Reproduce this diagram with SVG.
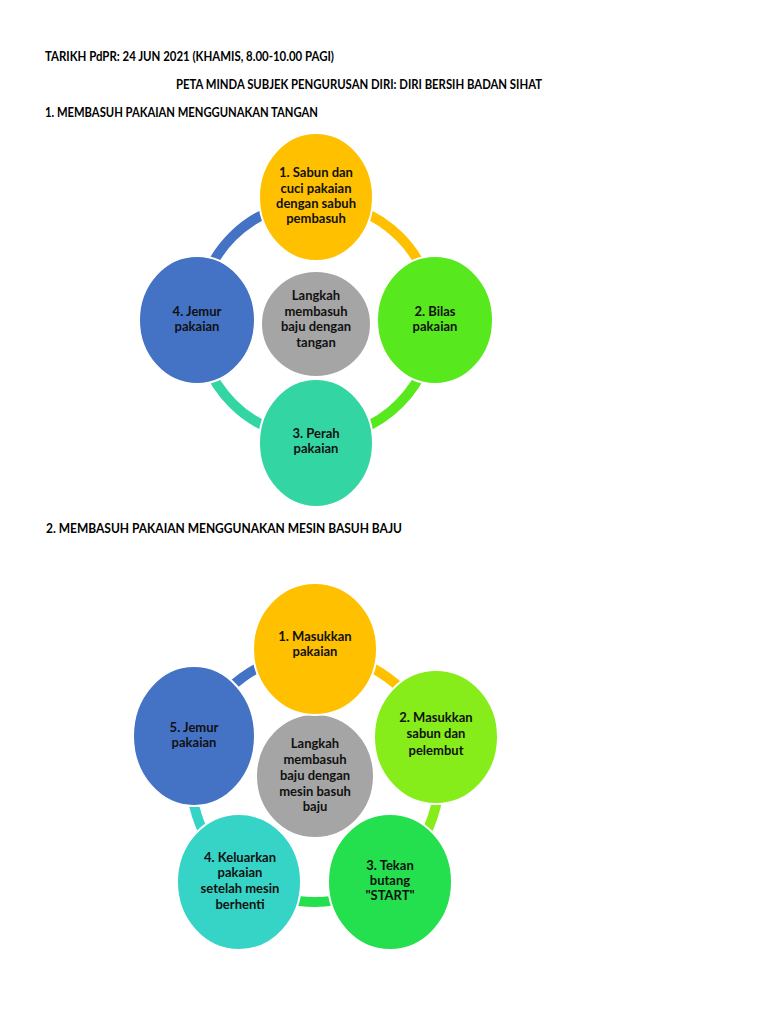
<svg xmlns="http://www.w3.org/2000/svg" width="768" height="1024" viewBox="0 0 768 1024">
<style>
.h{font-family:Lato,"Liberation Sans",sans-serif;font-weight:bold;font-size:13.5px;fill:#000}
.t{font-family:Lato,"Liberation Sans",sans-serif;font-weight:bold;font-size:13px;fill:#111;text-anchor:middle}
.n{stroke:#fff;stroke-width:2}
.arc{fill:none;stroke-width:10}
</style>
<rect width="768" height="1024" fill="#fff"/>
<g id="headers">
<text class="h" x="45" y="61" textLength="289" lengthAdjust="spacingAndGlyphs">TARIKH PdPR: 24 JUN 2021 (KHAMIS, 8.00-10.00 PAGI)</text>
<text class="h" x="176" y="89" textLength="366" lengthAdjust="spacingAndGlyphs">PETA MINDA SUBJEK PENGURUSAN DIRI: DIRI BERSIH BADAN SIHAT</text>
<text class="h" x="45" y="117" textLength="273" lengthAdjust="spacingAndGlyphs">1. MEMBASUH PAKAIAN MENGGUNAKAN TANGAN</text>
<text class="h" x="46" y="533" textLength="356" lengthAdjust="spacingAndGlyphs">2. MEMBASUH PAKAIAN MENGGUNAKAN MESIN BASUH BAJU</text>
</g>
<g id="connectors">
<path class="arc" stroke="#FFC000" d="M316,202 A118,118 0 0 1 434,320"/>
<path class="arc" stroke="#58E81E" d="M434,320 A118,118 0 0 1 316,438"/>
<path class="arc" stroke="#33D6A3" d="M316,438 A118,118 0 0 1 198,320"/>
<path class="arc" stroke="#4472C4" d="M198,320 A118,118 0 0 1 316,202"/>
<path class="arc" stroke="#FFC000" d="M315,654 A124,124 0 0 1 432.9,739.7"/>
<path class="arc" stroke="#86EC1A" d="M432.9,739.7 A124,124 0 0 1 387.9,878.3"/>
<path class="arc" stroke="#24DF4E" d="M387.9,878.3 A124,124 0 0 1 242.1,878.3"/>
<path class="arc" stroke="#35D4C6" d="M242.1,878.3 A124,124 0 0 1 197.1,739.7"/>
<path class="arc" stroke="#4472C4" d="M197.1,739.7 A124,124 0 0 1 315,654"/>
</g>
<g id="d1-center"><ellipse class="n" cx="316" cy="324" rx="55" ry="53" fill="#A5A5A5"/>
<text class="t" x="316" y="300">Langkah</text><text class="t" x="316" y="316">membasuh</text><text class="t" x="316" y="331">baju dengan</text><text class="t" x="316" y="347">tangan</text></g>
<g id="d1-n1"><ellipse class="n" cx="316" cy="197" rx="57" ry="64" fill="#FFC000"/>
<text class="t" x="316" y="177">1. Sabun dan</text><text class="t" x="316" y="193">cuci pakaian</text><text class="t" x="316" y="208">dengan sabuh</text><text class="t" x="316" y="223">pembasuh</text></g>
<g id="d1-n2"><ellipse class="n" cx="435" cy="320" rx="58" ry="64" fill="#58E81E"/>
<text class="t" x="435" y="316">2. Bilas</text><text class="t" x="435" y="331">pakaian</text></g>
<g id="d1-n3"><ellipse class="n" cx="316" cy="443" rx="57" ry="64" fill="#33D6A3"/>
<text class="t" x="316" y="438">3. Perah</text><text class="t" x="316" y="453">pakaian</text></g>
<g id="d1-n4"><ellipse class="n" cx="197" cy="320" rx="58" ry="64" fill="#4472C4"/>
<text class="t" x="197" y="316">4. Jemur</text><text class="t" x="197" y="331">pakaian</text></g>

<g id="d2-center"><ellipse class="n" cx="315" cy="776" rx="59" ry="62" fill="#A5A5A5"/>
<text class="t" x="315" y="748">Langkah</text><text class="t" x="315" y="764">membasuh</text><text class="t" x="315" y="780">baju dengan</text><text class="t" x="315" y="796">mesin basuh</text><text class="t" x="315" y="811">baju</text></g>
<g id="d2-n1"><ellipse class="n" cx="315" cy="649" rx="62" ry="66" fill="#FFC000"/>
<text class="t" x="315" y="641">1. Masukkan</text><text class="t" x="315" y="656">pakaian</text></g>
<g id="d2-n2"><ellipse class="n" cx="436" cy="737" rx="62" ry="67" fill="#86EC1A"/>
<text class="t" x="436" y="722">2. Masukkan</text><text class="t" x="436" y="738">sabun dan</text><text class="t" x="436" y="755">pelembut</text></g>
<g id="d2-n3"><ellipse class="n" cx="390" cy="882" rx="62" ry="68" fill="#24DF4E"/>
<text class="t" x="390" y="870">3. Tekan</text><text class="t" x="390" y="885">butang</text><text class="t" x="390" y="900">"START"</text></g>
<g id="d2-n4"><ellipse class="n" cx="239" cy="882" rx="62" ry="68" fill="#35D4C6"/>
<text class="t" x="240" y="862">4. Keluarkan</text><text class="t" x="240" y="877">pakaian</text><text class="t" x="240" y="893">setelah mesin</text><text class="t" x="240" y="909">berhenti</text></g>
<g id="d2-n5"><ellipse class="n" cx="194" cy="736" rx="61" ry="70" fill="#4472C4"/>
<text class="t" x="194" y="732">5. Jemur</text><text class="t" x="194" y="747">pakaian</text></g>
</svg>
